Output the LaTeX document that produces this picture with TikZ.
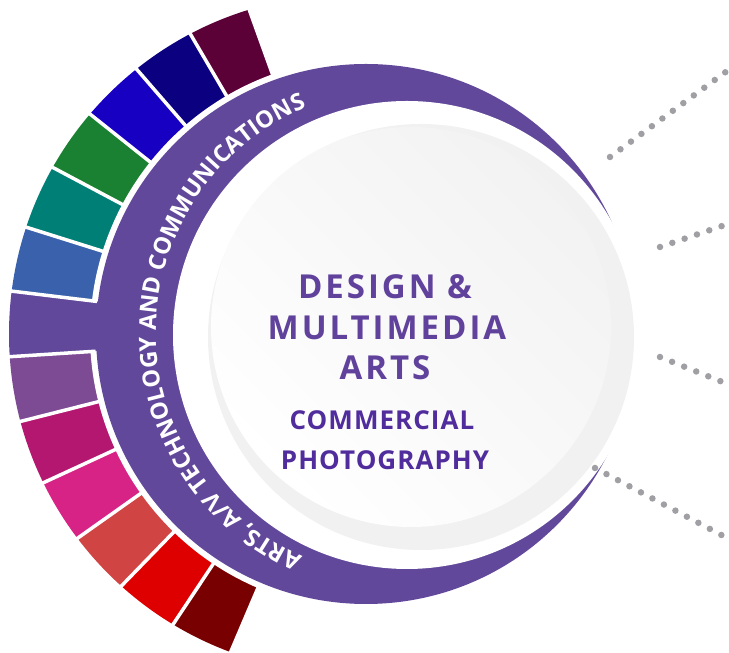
\documentclass[tikz,border=0pt]{standalone}
\usepackage{fontspec}
\newfontfamily\osans{Open Sans}
\newfontfamily\osanswide{Open Sans}[LetterSpace=9]
\newfontfamily\osansmid{Open Sans}[LetterSpace=4]
\usetikzlibrary{decorations.text}

\definecolor{bandpurple}{RGB}{98,72,155}
\definecolor{titlepurple}{RGB}{96,66,156}
\definecolor{subpurple}{RGB}{80,44,156}
\definecolor{dotgray}{RGB}{160,160,164}
\definecolor{ringgray}{RGB}{241,241,242}
% colour slots, top to bottom
\definecolor{segA}{RGB}{92,0,56}
\definecolor{segB}{RGB}{11,0,127}
\definecolor{segC}{RGB}{24,0,194}
\definecolor{segD}{RGB}{25,129,49}
\definecolor{segE}{RGB}{0,127,119}
\definecolor{segF}{RGB}{58,98,172}
\definecolor{segH}{RGB}{125,75,148}
\definecolor{segI}{RGB}{179,23,111}
\definecolor{segJ}{RGB}{216,35,134}
\definecolor{segK}{RGB}{208,68,68}
\definecolor{segL}{RGB}{222,0,0}
\definecolor{segM}{RGB}{121,0,0}

\begin{document}
\begin{tikzpicture}[x=1pt, y=1pt,
  title/.style    = {font=\osanswide\bfseries\fontsize{33}{36}\selectfont,
                     text=titlepurple, inner sep=0pt},
  subtitle/.style = {font=\osansmid\bfseries\fontsize{26}{28}\selectfont,
                     text=subpurple, inner sep=0pt},
  dotline/.style  = {dotgray, line width=6.5pt, line cap=round,
                     dash pattern=on 0pt off 13pt},
  sepline/.style  = {white, line width=3.5pt}
]
  \useasboundingbox (0,0) rectangle (729,653);

  \coordinate (ringC) at (366,319);
  \coordinate (segC)  at (348,319);
  \coordinate (bandC) at (407,318);
  \coordinate (textC) at (400,320);
  \coordinate (discC) at (421,316);
  \coordinate (faceC) at (411,326);

  % colour slots
  \begin{scope}
    \clip (segC) circle[radius=339];
    \foreach \col [count=\i from 0] in
        {segA,segB,segC,segD,segE,segF,bandpurple,segH,segI,segJ,segK,segL,segM} {
      \pgfmathsetmacro\aS{109.8+10.55*\i}
      \pgfmathsetmacro\aE{\aS+10.55}
      \fill[\col] (ringC) -- ([shift={(\aS:420)}]ringC)
        arc[start angle=\aS, end angle=\aE, radius=420] -- cycle;
    }
  \end{scope}

  % band
  \fill[white] (ringC) circle[radius=276];
  \fill[bandpurple] (ringC) circle[radius=270];
  \fill[bandpurple] (ringC) -- ([shift={(173.1:290)}]ringC)
    arc[start angle=173.1, end angle=183.65, radius=290] -- cycle;
  \fill[white] (bandC) circle[radius=234];

  \foreach \a in {109.8,120.35,130.9,141.45,152.0,162.55,173.1,
                  183.65,194.2,204.75,215.3,225.85,236.4,246.95}
    \draw[sepline] ([shift={(\a:271)}]ringC) -- ([shift={(\a:420)}]ringC);

  \path[decorate, decoration={text along path, text align=center,
      text color=white,
      text={|\osans\bfseries\fontsize{23.5}{24}\selectfont|ARTS, A/V TECHNOLOGY AND COMMUNICATIONS}}]
    ([shift={(249:244)}]textC) arc[start angle=249, end angle=110, radius=244];

  % centre disc
  \fill[ringgray] (discC) circle[radius=213];
  \shade[left color=black!5, middle color=white, right color=white,
         shading angle=-45] (faceC) circle[radius=200];

  % dotted rays
  \coordinate (r1a) at (610,496); \coordinate (r1b) at (727,582);
  \coordinate (r2a) at (660,406); \coordinate (r2b) at (725,428);
  \coordinate (r3a) at (660,296); \coordinate (r3b) at (725,270);
  \coordinate (r4a) at (595,185); \coordinate (r4b) at (727,115);
  \draw[dotline] (r1a) -- (r1b);
  \draw[dotline] (r2a) -- (r2b);
  \draw[dotline] (r3a) -- (r3b);
  \draw[dotline] (r4a) -- (r4b);

  % labels
  \node[title] (design) at (385,366) {DESIGN \&};
  \node[title] (multi)  at (387,325) {MULTIMEDIA};
  \node[title] (arts)   at (385,285) {ARTS};
  \node[subtitle] (comm)  at (382,233) {COMMERCIAL};
  \node[subtitle] (photo) at (385,193) {PHOTOGRAPHY};
\end{tikzpicture}
\end{document}
